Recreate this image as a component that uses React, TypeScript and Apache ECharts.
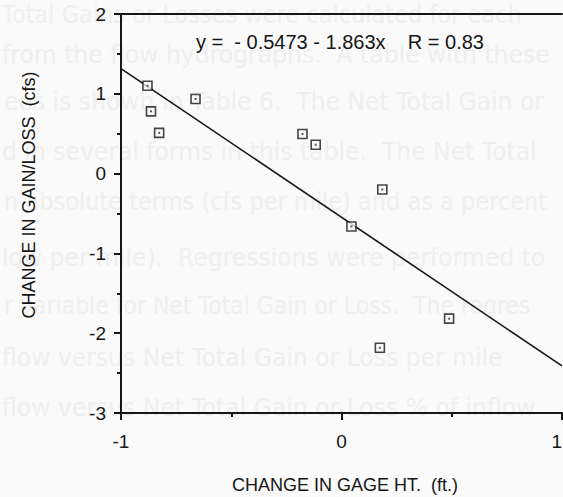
import React, { useEffect, useRef } from "react";
import * as echarts from "echarts";

// Measured points: change in gage height (ft) vs change in gain/loss (cfs)
const gageChange = [-0.880, -0.864, -0.827, -0.662, -0.177, -0.117, 0.185, 0.045, 0.488, 0.174];
const gainLossChange = [1.10, 0.78, 0.51, 0.935, 0.496, 0.362, -0.20, -0.663, -1.817, -2.183];

// Regression line end points (y = -0.5473 - 1.863x)
const fitX = [-1, 1];
const fitY = [1.316, -2.410];

const xTicks = [-1, 0, 1];
const yTicks = [-3, -2, -1, 0, 1, 2];

const equationText = "y =  - 0.5473 - 1.863x    R = 0.83";
const xTitle = "CHANGE IN GAGE HT.  (ft.)";
const yTitle = "CHANGE IN GAIN/LOSS  (cfs)";

// Faded text from the page behind the chart (scan bleed-through)
const bgLines = [
  "Total Gains or Losses were calculated for each",
  "from the flow hydrographs.  A table with these",
  "ees is shown in Table 6.  The Net Total Gain or",
  "d in several forms in this table.  The Net Total",
  "n absolute terms (cfs per mile) and as a percent",
  "low per mile).  Regressions were performed to",
  "r variable for Net Total Gain or Loss.  The regres",
  "flow versus Net Total Gain or Loss per mile",
  "flow versus Net Total Gain or Loss % of inflow",
];
const bgLineX = [2, 2, 4, 2, 4, 2, 4, 2, 2];
const bgLineY = [15, 54, 101, 151, 202, 257, 306, 357, 407];
const bgLineScale = [0.9, 0.94, 0.94, 0.94, 0.9, 0.94, 0.88, 0.94, 0.94];

export default function App() {
  const ref = useRef<HTMLDivElement>(null);
  useEffect(() => {
    if (!ref.current) return;
    const chart = echarts.init(ref.current, null, { renderer: "svg" });
    const pts = gageChange.map((x, i) => [x, gainLossChange[i]]);
    const fit = fitX.map((x, i) => [x, fitY[i]]);
    const ink = "#161616";
    const font = "Liberation Sans";
    const bg = bgLines.map((t, i) => ({
      type: "text",
      x: bgLineX[i],
      y: bgLineY[i],
      scaleX: bgLineScale[i],
      z: 0,
      silent: true,
      style: {
        text: t,
        font: '25px "DejaVu Sans"',
        fill: "#efefef",
        verticalAlign: "middle",
        align: "left",
      },
    }));
    chart.setOption({
      animation: false,
      backgroundColor: "#fafafa",
      grid: {
        left: 121,
        right: 38,
        top: 14,
        bottom: 84,
        show: false,
      },
      xAxis: [
        {
          type: "value",
          min: xTicks[0],
          max: xTicks[xTicks.length - 1],
          interval: 1,
          axisLine: { show: true, onZero: false, lineStyle: { color: ink, width: 2 } },
          axisTick: { show: true, inside: false, length: 7, lineStyle: { color: ink, width: 2 } },
          minorTick: { show: true, splitNumber: 2, length: 4, lineStyle: { color: ink, width: 2 } },
          splitLine: { show: false },
          axisLabel: {
            color: ink,
            fontSize: 19,
            fontFamily: font,
            margin: 19,
            alignMaxLabel: "right",
          },
        },
        {
          type: "value",
          position: "top",
          min: xTicks[0],
          max: xTicks[xTicks.length - 1],
          interval: 1,
          axisLine: { show: true, onZero: false, lineStyle: { color: ink, width: 2 } },
          axisTick: { show: false },
          axisLabel: { show: false },
          splitLine: { show: false },
        },
      ],
      yAxis: {
        type: "value",
        min: yTicks[0],
        max: yTicks[yTicks.length - 1],
        interval: 1,
        axisLine: { show: true, onZero: false, lineStyle: { color: ink, width: 2 } },
        axisTick: { show: true, inside: false, length: 7, lineStyle: { color: ink, width: 2 } },
        minorTick: { show: true, splitNumber: 2, length: 4, lineStyle: { color: ink, width: 2 } },
        splitLine: { show: false },
        axisLabel: { color: ink, fontSize: 19, fontFamily: font, margin: 15 },
      },
      graphic: [
        ...bg,
        {
          type: "text",
          x: 196,
          y: 42,
          z: 10,
          style: {
            text: equationText,
            font: '20px "Liberation Sans"',
            fill: ink,
            verticalAlign: "middle",
            align: "left",
          },
        },
        {
          type: "text",
          x: 345,
          y: 485,
          z: 10,
          style: {
            text: xTitle,
            font: '18px "Liberation Sans"',
            fill: ink,
            verticalAlign: "middle",
            align: "center",
          },
        },
        {
          type: "text",
          x: 29,
          y: 195,
          rotation: Math.PI / 2,
          z: 10,
          style: {
            text: yTitle,
            font: '18px "Liberation Sans"',
            fill: ink,
            verticalAlign: "middle",
            align: "center",
          },
        },
      ],
      series: [
        {
          type: "line",
          data: fit,
          symbol: "none",
          lineStyle: { color: ink, width: 1.6 },
          z: 3,
        },
        {
          type: "scatter",
          data: pts,
          symbol: "rect",
          symbolSize: 9,
          itemStyle: { color: "#fafafa", borderColor: ink, borderWidth: 1.6 },
          z: 4,
        },
        {
          type: "scatter",
          data: pts,
          symbol: "rect",
          symbolSize: 2,
          itemStyle: { color: "#333" },
          z: 5,
        },
      ],
    });
    return () => chart.dispose();
  }, []);
  return (
    <div
      style={{
        position: "fixed",
        left: 0,
        top: 0,
        width: 563,
        height: 497,
        overflow: "hidden",
        background: "#fafafa",
      }}
    >
      <div ref={ref} style={{ width: 600, height: 497 }} />
    </div>
  );
}
